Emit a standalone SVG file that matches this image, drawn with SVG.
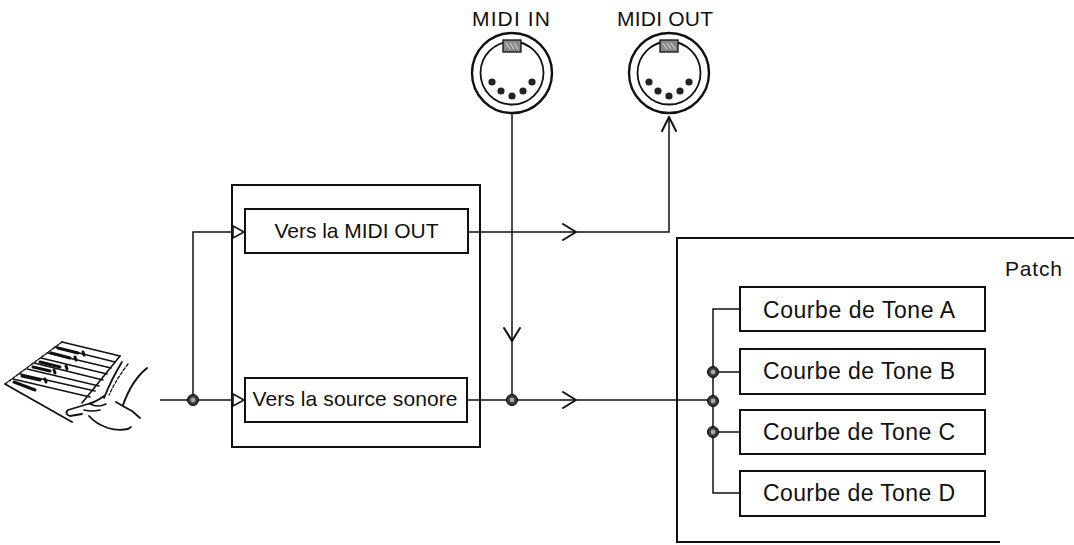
<svg xmlns="http://www.w3.org/2000/svg" width="1074" height="545" viewBox="0 0 1074 545">
  <defs>
    <style>
      .box { fill: #fff; stroke: #111; stroke-width: 2; }
      .frame { fill: none; stroke: #111; stroke-width: 2; }
      .wire { fill: none; stroke: #111; stroke-width: 1.5; }
      .chev { fill: none; stroke: #111; stroke-width: 2; stroke-linecap: round; stroke-linejoin: round; }
      .tri { fill: #fff; stroke: #111; stroke-width: 1.5; }
      .lbl { font-family: "Liberation Sans", Arial, sans-serif; fill: #111; }
      .sk { fill: none; stroke: #111; stroke-linecap: round; stroke-linejoin: round; }
    </style>
    <!-- junction dot -->
    <g id="dot">
      <circle r="5.5" fill="#3a3a3a" stroke="#000" stroke-width="1"/>
      <circle r="2.4" fill="#a8a8a8"/>
    </g>
    <!-- 5-pin DIN socket -->
    <g id="din">
      <circle r="40" fill="#fff" stroke="#111" stroke-width="2.4"/>
      <circle r="31.5" fill="none" stroke="#111" stroke-width="1.8"/>
      <rect x="-9" y="-33" width="18" height="12" fill="#8a8a8a" stroke="#111" stroke-width="1.3"/>
      <path d="M-6 -30 l4 6 M-2 -30 l4 6 M2 -30 l4 6" stroke="#ddd" stroke-width="1"/>
      <circle cx="-20" cy="9" r="3.6" fill="#222"/>
      <circle cx="-11" cy="18" r="3.6" fill="#222"/>
      <circle cx="0" cy="23" r="3.6" fill="#222"/>
      <circle cx="11" cy="18" r="3.6" fill="#222"/>
      <circle cx="20" cy="9" r="3.6" fill="#222"/>
    </g>
  </defs>

  <rect width="1074" height="545" fill="#fff"/>

  <!-- keyboard played by a hand -->
  <g id="keyboard">
    <path class="sk" stroke-width="1.4" stroke-dasharray="3 1.5" d="M62 342 L5 384"/>
    <path class="sk" stroke-width="1.8" d="M62 342 L120 356"/>
    <path class="sk" stroke-width="1.8" d="M5 384 L72 422"/>
    <path class="sk" stroke-width="1.6" d="M120 356 L82 403"/>
    <!-- white key lines -->
    <path class="sk" stroke-width="1.5" d="M55 347 L115 362 M48 353 L111 368 M41 358 L107 374 M34 363 L103 380 M27 369 L99 386 M20 374 L95 391 M13 379 L90 397"/>
    <!-- black keys -->
    <path class="sk" stroke-width="3" d="M58 348 L78 353 M83 352 l1 3 M51 353 L70 358 M75 357 l1 3 M40 362 L60 367 M66 366 l1 3 M33 367 L50 371 M54 370 l1 3 M22 376 L40 380 M45 379 l1 3 M14 382 L35 390"/>
    <!-- sleeve and hand -->
    <path class="sk" stroke-width="2" d="M147 368 Q132 380 123 405"/>
    <path class="sk" stroke-width="1.8" d="M122 362 Q112 378 104 398"/>
    <path class="sk" stroke-width="1.3" stroke-dasharray="3 2" d="M128 364 Q117 378 109 395"/>
    <path class="sk" stroke-width="1.8" d="M104 396 Q96 402 88 404 L68 410 Q64 414 70 416 L82 414"/>
    <path class="sk" stroke-width="1.6" d="M90 404 Q98 408 106 404 M84 410 Q92 412 100 410"/>
    <path class="sk" stroke-width="1.8" d="M89 416 Q96 424 108 428 Q118 431 128 429 L131 427"/>
    <path class="sk" stroke-width="1.8" d="M116 402 Q126 408 132 411 L140 418"/>
  </g>

  <!-- connectors -->
  <g id="connectors">
    <!-- keyboard split -->
    <path class="wire" d="M160 400 H232"/>
    <path class="wire" d="M193 400 V232 H233"/>
    <polygon class="tri" points="233,226 244,232 233,238"/>
    <polygon class="tri" points="233,394 244,400 233,406"/>
    <!-- to MIDI OUT -->
    <path class="wire" d="M468 232 H669 V116"/>
    <path class="chev" d="M563 224 L576 232 L563 240"/>
    <path class="chev" d="M662 131 L669 117 L676 131"/>
    <!-- from MIDI IN -->
    <path class="wire" d="M512 114 V400"/>
    <path class="chev" d="M504 328 L512 341 L520 328"/>
    <!-- to sound source / patch -->
    <path class="wire" d="M467 400 H713"/>
    <path class="chev" d="M563 392 L576 400 L563 408"/>
    <!-- tone bus -->
    <path class="wire" d="M740 309 H713 V493 H740"/>
    <path class="wire" d="M713 372 H740 M713 432 H740"/>
    <use href="#dot" x="193" y="400"/>
    <use href="#dot" x="512" y="400"/>
    <use href="#dot" x="713" y="372"/>
    <use href="#dot" x="713" y="401"/>
    <use href="#dot" x="713" y="432"/>
  </g>

  <g id="midi-in">
    <use href="#din" x="512" y="73"/>
    <text class="lbl" x="511" y="26" font-size="21" text-anchor="middle" textLength="78">MIDI IN</text>
  </g>
  <g id="midi-out">
    <use href="#din" x="669" y="73"/>
    <text class="lbl" x="665" y="26" font-size="21" text-anchor="middle" textLength="96">MIDI OUT</text>
  </g>

  <g id="controller">
    <rect class="frame" x="232" y="185" width="248" height="262"/>
  </g>
  <g id="to-midi-out">
    <rect class="box" x="245" y="209" width="223" height="44"/>
    <text class="lbl" x="356.5" y="238" font-size="21" text-anchor="middle" textLength="164">Vers la MIDI OUT</text>
  </g>
  <g id="to-sound-source">
    <rect class="box" x="245" y="378" width="222" height="44"/>
    <text class="lbl" x="355" y="406" font-size="21" text-anchor="middle" textLength="205">Vers la source sonore</text>
  </g>

  <g id="patch">
    <path class="frame" d="M1074 238 H677 V542 H1000"/>
    <text class="lbl" x="1005" y="276" font-size="21" textLength="57">Patch</text>
  </g>
  <g id="tone-a">
    <rect class="box" x="740" y="287" width="245" height="44"/>
    <text class="lbl" x="859" y="318" font-size="23" text-anchor="middle" textLength="192">Courbe de Tone A</text>
  </g>
  <g id="tone-b">
    <rect class="box" x="740" y="349" width="245" height="45"/>
    <text class="lbl" x="859" y="379" font-size="23" text-anchor="middle" textLength="192">Courbe de Tone B</text>
  </g>
  <g id="tone-c">
    <rect class="box" x="740" y="410" width="245" height="44"/>
    <text class="lbl" x="859" y="440" font-size="23" text-anchor="middle" textLength="192">Courbe de Tone C</text>
  </g>
  <g id="tone-d">
    <rect class="box" x="740" y="471" width="245" height="45"/>
    <text class="lbl" x="859" y="501" font-size="23" text-anchor="middle" textLength="192">Courbe de Tone D</text>
  </g>
</svg>
